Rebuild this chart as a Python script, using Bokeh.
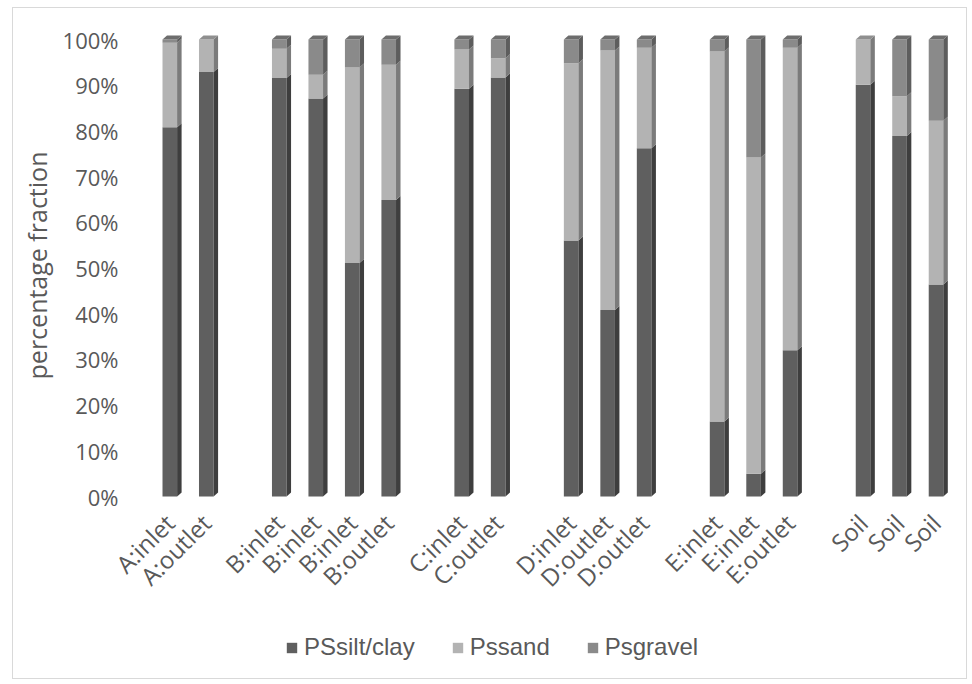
from math import pi

from bokeh.plotting import figure
from bokeh.layouts import column
from bokeh.models import (FixedTicker, PrintfTickFormatter, Legend, LegendItem,
                          Range1d, ColumnDataSource)
from bokeh.embed import file_html
from bokeh.resources import INLINE

# ---- data -----------------------------------------------------------------
labels = ["A:inlet", "A:outlet",
          "B:inlet", "B:inlet", "B:inlet", "B:outlet",
          "C:inlet", "C:outlet",
          "D:inlet", "D:outlet", "D:outlet",
          "E:inlet", "E:inlet", "E:outlet",
          "Soil", "Soil", "Soil"]
group_sizes = [2, 4, 2, 3, 3, 3]

silt = [80.8, 92.9, 91.6, 87.1, 51.1, 64.9, 89.2, 91.7, 56.0, 40.8, 76.2,
        16.4, 5.0, 32.0, 90.1, 78.9, 46.4]
sand = [18.5, 7.1, 6.4, 5.2, 42.8, 29.6, 8.6, 4.2, 38.8, 56.8, 22.0,
        81.0, 69.2, 66.2, 9.9, 8.7, 35.8]
gravel = [0.7, 0.0, 2.0, 7.7, 6.1, 5.5, 2.2, 4.1, 5.2, 2.4, 1.8,
          2.6, 25.8, 1.8, 0.0, 12.4, 17.8]

series_names = ["PSsilt/clay", "Pssand", "Psgravel"]
series_values = [silt, sand, gravel]
front_colors = ["#5f5f5f", "#b3b3b3", "#8a8a8a"]
side_colors = ["#3e3e3e", "#7b7b7b", "#5d5d5d"]
top_colors = ["#4b4b4b", "#8f8f8f", "#6d6d6d"]

y_ticks = list(range(0, 101, 10))

# ---- category slots: one empty slot between site groups --------------------
xpos = []
slot = 0
for size in group_sizes:
    for _ in range(size):
        xpos.append(slot)
        slot += 1
    slot += 1

# ---- main chart ------------------------------------------------------------
FRAME_W, FRAME_H = 805, 470
X0, X1 = -0.529, 21.534
Y0, Y1 = -0.875, 101.97

p = figure(frame_width=FRAME_W, frame_height=FRAME_H,
           output_backend="svg", toolbar_location=None,
           x_range=Range1d(X0, X1), y_range=Range1d(Y0, Y1),
           min_border_left=150, min_border_right=17, min_border_top=30,
           min_border_bottom=115)
p.outline_line_color = None
p.xgrid.visible = False
p.ygrid.visible = False
p.background_fill_color = "white"
p.border_fill_color = None

half_w = 0.2
# depth of the extruded faces, in data units
dx = 4.5 * (X1 - X0) / FRAME_W
dy = 4.0 * (Y1 - Y0) / FRAME_H

bottoms = [0.0] * len(labels)
for name, vals, fc, sc in zip(series_names, series_values, front_colors, side_colors):
    tops = [b + v for b, v in zip(bottoms, vals)]
    src = ColumnDataSource(dict(x=xpos, top=tops, bottom=bottoms))
    p.vbar(x="x", top="top", bottom="bottom", width=2 * half_w, source=src,
           fill_color=fc, line_color=None)
    xs, ys = [], []
    for x, b, t in zip(xpos, bottoms, tops):
        if t - b <= 0:
            continue
        xr = x + half_w
        xs.append([xr, xr + dx, xr + dx, xr])
        ys.append([b, b + dy, t + dy, t])
    p.patches(xs, ys, fill_color=sc, line_color=None)
    bottoms = tops

# top caps, shaded from the uppermost non-empty segment
cap_xs, cap_ys, cap_cols = [], [], []
for i, x in enumerate(xpos):
    total = sum(v[i] for v in series_values)
    col = top_colors[0]
    for k, v in enumerate(series_values):
        if v[i] > 0:
            col = top_colors[k]
    cap_xs.append([x - half_w, x - half_w + dx, x + half_w + dx, x + half_w])
    cap_ys.append([total, total + dy, total + dy, total])
    cap_cols.append(col)
p.patches(cap_xs, cap_ys, fill_color=cap_cols, line_color=None)

label_color = "#595959"
p.xaxis.ticker = FixedTicker(ticks=xpos)
p.xaxis.major_label_overrides = {x: lab for x, lab in zip(xpos, labels)}
p.xaxis.major_label_orientation = pi / 4
p.xaxis.major_label_text_font = "Open Sans"
p.xaxis.major_label_text_font_size = "24px"
p.xaxis.major_label_text_color = label_color
p.xaxis.major_label_standoff = 12
p.xaxis.axis_line_color = None
p.xaxis.major_tick_line_color = None
p.xaxis.minor_tick_line_color = None

p.yaxis.ticker = FixedTicker(ticks=y_ticks)
p.yaxis.formatter = PrintfTickFormatter(format="%d%%")
p.yaxis.major_label_text_font = "Open Sans"
p.yaxis.major_label_text_font_size = "22px"
p.yaxis.major_label_text_color = label_color
p.yaxis.major_label_standoff = 26
p.yaxis.axis_line_color = None
p.yaxis.major_tick_line_color = None
p.yaxis.minor_tick_line_color = None
p.yaxis.axis_label = "percentage fraction"
p.yaxis.axis_label_text_font = "Open Sans"
p.yaxis.axis_label_text_font_style = "normal"
p.yaxis.axis_label_text_font_size = "25px"
p.yaxis.axis_label_text_color = label_color
p.yaxis.axis_label_standoff = 6

# ---- legend strip ------------------------------------------------------------
lg = figure(width=972, height=69, output_backend="svg", toolbar_location=None,
            x_range=Range1d(0, 1), y_range=Range1d(0, 1),
            min_border_left=150, min_border_right=17, min_border_top=0,
            min_border_bottom=0, x_axis_type=None, y_axis_type=None)
lg.outline_line_color = None
lg.xgrid.visible = False
lg.ygrid.visible = False
lg.background_fill_color = None
lg.border_fill_color = None

# zero-height swatch renderers: they only supply the legend glyphs
swatches = [lg.vbar(x=[0.5], top=[0.5], bottom=[0.5], width=0.01,
                    fill_color=fc, line_color=None)
            for fc in front_colors]
legend = Legend(items=[LegendItem(label=n, renderers=[r])
                       for n, r in zip(series_names, swatches)],
                orientation="horizontal", location=(135, 23))
legend.label_text_font = "Liberation Sans"
legend.label_text_font_size = "24px"
legend.label_text_color = label_color
legend.glyph_width = 13
legend.glyph_height = 13
legend.label_standoff = 6
legend.spacing = 36
legend.padding = 0
legend.margin = 0
legend.border_line_color = None
legend.background_fill_alpha = 0
lg.add_layout(legend, "center")

# light frame around the whole chart area, painted behind the canvases
line = "linear-gradient(#d9d9d9, #d9d9d9)"
layout = column(p, lg, spacing=0, styles={
    "background-color": "white",
    "background-image": ", ".join([line] * 4),
    "background-position": "12px 7px, 12px 678px, 12px 7px, 966px 7px",
    "background-size": "955px 1px, 955px 1px, 1px 672px, 1px 672px",
    "background-repeat": "no-repeat",
})

open("out.html", "w").write(file_html(layout, INLINE))
